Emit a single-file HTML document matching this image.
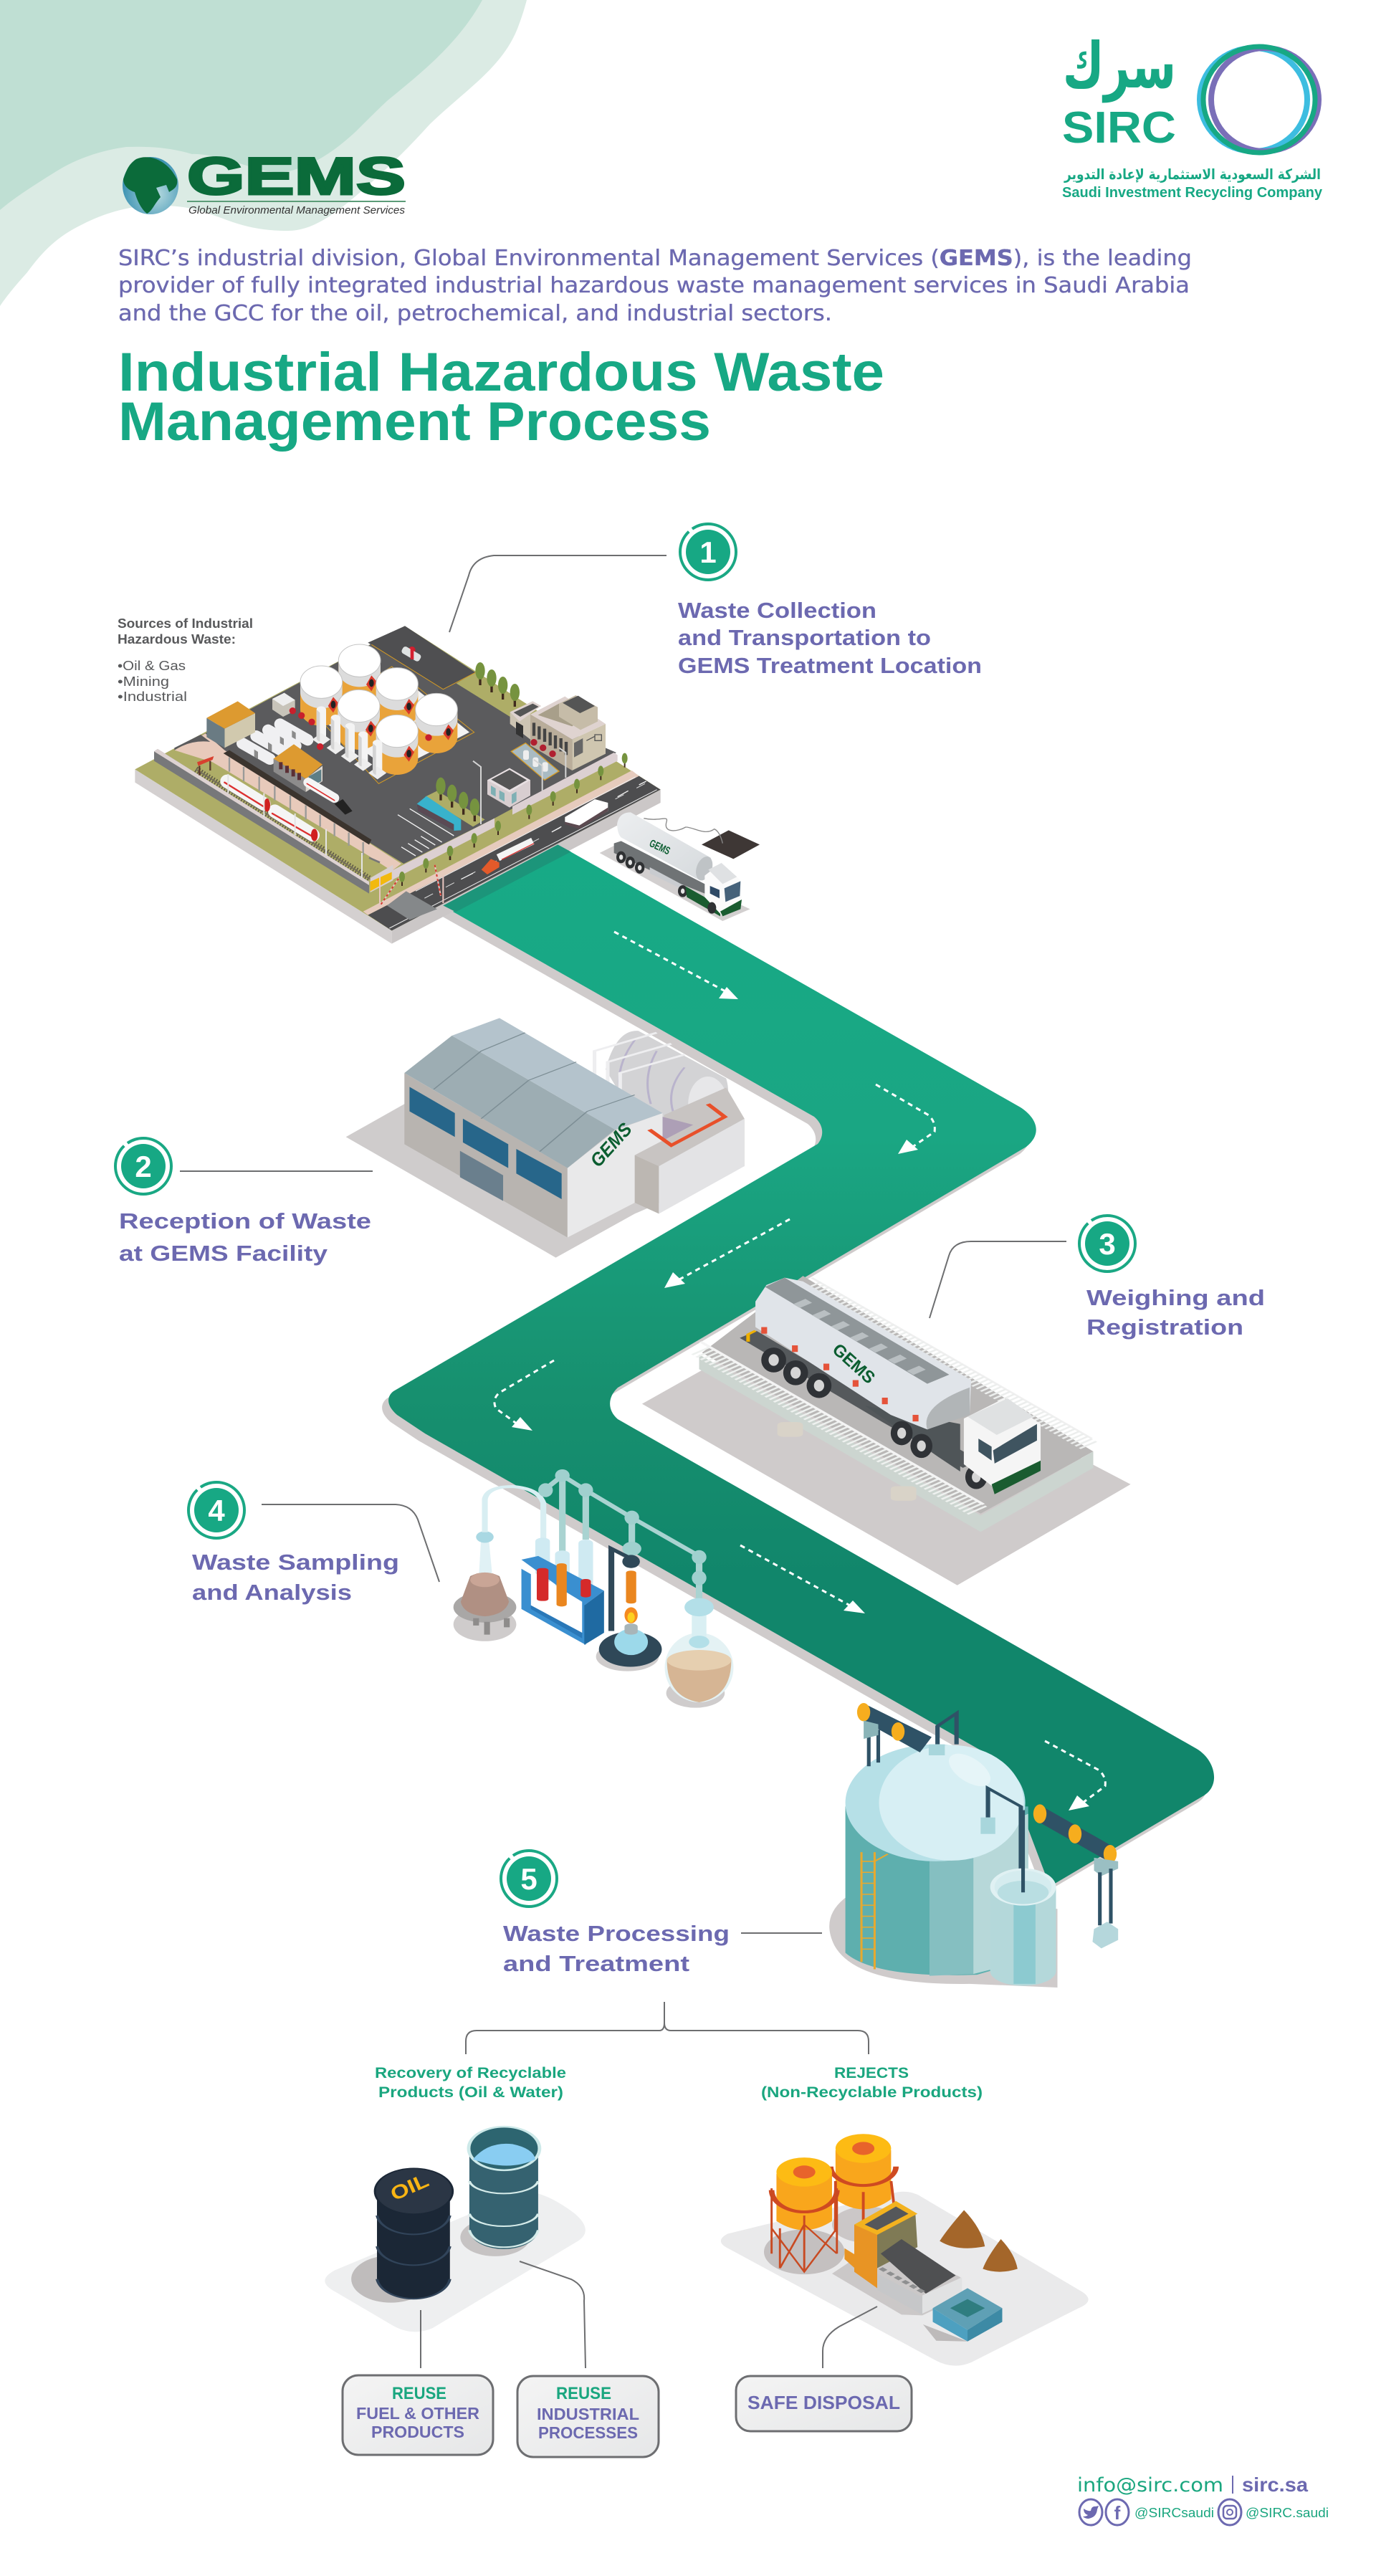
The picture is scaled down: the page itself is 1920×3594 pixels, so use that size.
<!DOCTYPE html>
<html><head><meta charset="utf-8"><style>
html,body{margin:0;padding:0;background:#fff}svg{display:block}
.p{font-family:"DejaVu Sans",sans-serif;fill:#6c69b0;stroke:#6c69b0;stroke-width:.35px;font-size:30px}
.h{font-family:"Liberation Sans",sans-serif;font-weight:700;fill:#17a884;font-size:76px}
.l{font-family:"Liberation Sans",sans-serif;font-weight:700;fill:#6c69b0;font-size:31px}
.g{font-family:"Liberation Sans",sans-serif;font-weight:700;fill:#1aa67f;font-size:21px}
.b{font-family:"Liberation Sans",sans-serif;font-weight:700;fill:#6c69b0;font-size:23px}
.s{font-family:"Liberation Sans",sans-serif;fill:#58595b;font-size:18px}
.n{font-family:"Liberation Sans",sans-serif;font-weight:700;fill:#fff;font-size:42px;text-anchor:middle}
.ln{fill:none;stroke:#6d6e70;stroke-width:2}
.da{fill:none;stroke:#fff;stroke-width:3;stroke-dasharray:7 6}
.ring{fill:#fff;stroke:#1aa884;stroke-width:4;stroke-dasharray:154 6 85 0}
</style></head><body>
<svg xmlns="http://www.w3.org/2000/svg" width="1920" height="3594" viewBox="0 0 1920 3594">
<defs>
<linearGradient id="rd" gradientUnits="userSpaceOnUse" x1="0" y1="1178" x2="0" y2="2200"><stop offset="0" stop-color="#17aa86"/><stop offset=".4" stop-color="#1aa683"/><stop offset=".75" stop-color="#17906f"/><stop offset="1" stop-color="#11866b"/></linearGradient>
<linearGradient id="bx" x1="0" y1="0" x2="1" y2="1"><stop offset="0" stop-color="#f4f4f4"/><stop offset="1" stop-color="#e6e7e8"/></linearGradient>
<radialGradient id="gl" cx=".6" cy=".65" r=".6"><stop offset="0" stop-color="#b8dbe0"/><stop offset="1" stop-color="#3d93b3"/></radialGradient>
<linearGradient id="tg" x1="0" y1="0" x2="1" y2="1"><stop offset="0" stop-color="#eceef0"/><stop offset="1" stop-color="#d6dadd"/></linearGradient>
<g id="tk"><path d="M-88,0 L-88,115 A88,68 0 0 0 88,115 L88,0 Z" fill="#e9a33a"/><path d="M-88,0 L-88,42 A88,68 0 0 0 88,42 L88,0 Z" fill="#dcdcdc"/><ellipse rx="88" ry="68" fill="#fff" stroke="#c4c4c4" stroke-width="3"/><polygon points="50,62 72,88 50,128 28,100" fill="#d8392b"/><ellipse cx="50" cy="94" rx="10" ry="16" fill="#222"/></g>
<g id="tr"><rect x="-5" y="-45" width="10" height="45" fill="#3f2a1e"/><ellipse cx="0" cy="-60" rx="20" ry="36" fill="#76933f"/></g>
<g id="ts"><rect x="-3" y="-30" width="6" height="30" fill="#3f2a1e"/><ellipse cx="0" cy="-38" rx="12" ry="22" fill="#76933f"/></g>
<g id="hz"><path d="M-58,-34 L58,32" stroke="#f0f0f2" stroke-width="48" stroke-linecap="round" fill="none"/><polygon points="-8,-8 8,2 8,32 -8,22" fill="#8b8b8b"/></g>
<g id="pl"><path d="M-20,-120 A20,14 0 0 1 20,-120 L20,0 A20,14 0 0 1 -20,0Z" fill="#f4f4f4"/><polygon points="-38,5 0,-22 38,5 0,32" fill="#eee"/><path d="M-20,-120 L-20,0 A20,14 0 0 0 -6,13 L-6,-107Z" fill="#d4d4d4"/></g>
</defs>

<!-- top blobs -->
<path d="M0,0 H735 C731,15 727,27 722,40 C700,95 650,125 600,173 C565,212 530,245 497,273 C465,300 435,322 402,322 C370,322 350,318 325,310 C290,298 270,287 225,287 C190,285 150,295 115,313 C80,330 60,350 38,380 C20,400 8,415 0,427Z" fill="#dbebe4"/>
<path d="M0,0 H673 C640,60 590,100 541,140 C525,155 510,170 497,183 C470,208 445,225 421,233 C400,242 385,242 360,236 C325,225 290,214 268,215 C235,205 205,204 176,205 C140,210 105,222 77,240 C45,260 20,276 0,293Z" fill="#bfdfd3"/>

<!-- GEMS logo -->
<ellipse cx="210" cy="259" rx="39" ry="40" fill="url(#gl)"/>
<path d="M190,222 C205,215 232,220 247,250 C249,262 240,265 236,268 L232,258 L218,262 L224,275 C215,285 212,295 205,298 C195,290 190,275 188,268 C178,265 172,258 172,250 C176,240 178,230 190,222Z" fill="#0b6b3a"/>
<text x="261" y="271" font-family="'Liberation Sans',sans-serif" font-weight="700" font-size="73" fill="#0b6b3a" stroke="#0b6b3a" stroke-width="3" textLength="305" lengthAdjust="spacingAndGlyphs">GEMS</text>
<rect x="261" y="280" width="305" height="2" fill="#5c9c78"/>
<text x="263" y="298" font-family="'Liberation Sans',sans-serif" font-style="italic" font-size="15" fill="#333" textLength="302" lengthAdjust="spacingAndGlyphs">Global Environmental Management Services</text>

<!-- SIRC logo -->
<text x="1641" y="122" direction="rtl" font-family="'DejaVu Sans',sans-serif" font-weight="700" font-size="88" fill="#17a884" textLength="158" lengthAdjust="spacingAndGlyphs">سرك</text>
<text x="1482" y="199" font-family="'Liberation Sans',sans-serif" font-weight="700" font-size="62" fill="#17a884" textLength="159" lengthAdjust="spacingAndGlyphs">SIRC</text>
<ellipse cx="1749" cy="139" rx="75" ry="72" fill="none" stroke="#3dbde0" stroke-width="8"/>
<ellipse cx="1765" cy="139" rx="75" ry="72" fill="none" stroke="#7a6fb8" stroke-width="8"/>
<ellipse cx="1757" cy="139" rx="78" ry="74" fill="none" stroke="#17a884" stroke-width="7"/>
<text x="1843" y="250" direction="rtl" font-family="'DejaVu Sans',sans-serif" font-weight="700" font-size="20" fill="#17a884" textLength="358" lengthAdjust="spacingAndGlyphs">الشركة السعودية الاستثمارية لإعادة التدوير</text>
<text x="1482" y="275" font-family="'Liberation Sans',sans-serif" font-weight="700" font-size="20" fill="#17a884" textLength="363" lengthAdjust="spacingAndGlyphs">Saudi Investment Recycling Company</text>

<!-- intro -->
<text class="p" x="165" y="370" textLength="1498" lengthAdjust="spacingAndGlyphs">SIRC’s industrial division, Global Environmental Management Services (<tspan font-weight="700">GEMS</tspan>), is the leading</text>
<text class="p" x="165" y="408" textLength="1495" lengthAdjust="spacingAndGlyphs">provider of fully integrated industrial hazardous waste management services in Saudi Arabia</text>
<text class="p" x="165" y="447" textLength="996" lengthAdjust="spacingAndGlyphs">and the GCC for the oil, petrochemical, and industrial sectors.</text>
<text class="h" x="165" y="545" textLength="1069" lengthAdjust="spacingAndGlyphs">Industrial Hazardous Waste</text>
<text class="h" x="165" y="614" textLength="827" lengthAdjust="spacingAndGlyphs">Management Process</text>

<!-- road -->
<path transform="translate(-9,10)" d="M618,1264 L778,1178 L1424,1545 C1447,1560 1455,1582 1432,1600 L862,1936 C847,1950 848,1968 862,1980 L1670,2440 C1695,2455 1704,2490 1680,2505 L1465,2632 L1400,2460 L593,2000 L554,1974 C538,1960 540,1948 549,1941 L1141,1596 C1150,1585 1150,1570 1136,1558Z" fill="#cfcbcb"/>
<path d="M618,1264 L778,1178 L1424,1545 C1447,1560 1455,1582 1432,1600 L862,1936 C847,1950 848,1968 862,1980 L1670,2440 C1695,2455 1704,2490 1680,2505 L1465,2632 L1400,2460 L593,2000 L554,1974 C538,1960 540,1948 549,1941 L1141,1596 C1150,1585 1150,1570 1136,1558Z" fill="url(#rd)"/>

<!-- dashed arrows -->
<path class="da" d="M857,1300 L1012,1383"/><polygon points="1030,1394 1003,1393 1014,1377" fill="#fff"/>
<path class="da" d="M1222,1513 L1296,1556 Q1306,1566 1304,1579 L1272,1601"/><polygon points="1253,1610 1265,1590 1281,1604" fill="#fff"/>
<path class="da" d="M1102,1701 L948,1785"/><polygon points="927,1797 939,1775 956,1791" fill="#fff"/>
<path class="da" d="M773,1898 L697,1943 Q686,1952 692,1965 L722,1987"/><polygon points="743,1996 714,1991 726,1977" fill="#fff"/>
<path class="da" d="M1033,2156 L1186,2240"/><polygon points="1207,2251 1177,2247 1190,2233" fill="#fff"/>
<path class="da" d="M1458,2429 L1534,2470 Q1544,2480 1542,2492 L1511,2515"/><polygon points="1491,2526 1503,2505 1520,2520" fill="#fff"/>

<!-- FACTORY -->
<g transform="translate(180,860) scale(.33333)">
<polygon points="25,640 1100,1315 1100,1370 25,695" fill="#d4d0d0"/>
<polygon points="1100,1315 2225,725 2225,780 1100,1370" fill="#cbc7c7"/>
<polygon points="1315,1210 1795,955 1850,985 1368,1237" fill="#1c957a"/>
<polygon points="25,640 1155,40 2225,725 1100,1315" fill="#aead67"/>
<!-- road -->
<polygon points="2225,725 2130,665 1000,1250 1100,1315" fill="#4d4d4f"/>
<polygon points="2135,668 2105,645 980,1235 1000,1250" fill="#e6cbbd"/>
<path d="M2210,725 L1090,1305 M2120,672 L1200,1150" stroke="#eee" stroke-width="3" fill="none"/>
<path d="M2160,700 L1130,1235" stroke="#ddd" stroke-width="3" stroke-dasharray="40 60" fill="none"/>
<polygon points="1080,1210 1160,1150 1290,1225 1175,1270" fill="#85888a"/>
<!-- asphalt -->
<polygon points="300,500 1155,40 1450,235 1370,280 2040,570 1530,845 1150,1035 400,570" fill="#5b5b5d"/>
<polygon points="1370,280 1595,420 1660,365 1450,235" fill="#aead67"/>
<polygon points="1240,755 1290,730 1490,850 1440,880" fill="#aead67"/>
<!-- pink & tracks -->
<polygon points="190,560 320,490 400,560 1140,1035 1100,1065 1000,1000 350,610" fill="#e8cabb"/>
<path d="M190,560 Q260,515 340,525 L300,495 L190,550Z" fill="#5b5b5d"/>
<path d="M280,640 L1010,1100" stroke="#5f5a46" stroke-width="26" stroke-dasharray="5 7" fill="none"/>
<path d="M280,640 L1010,1100" stroke="#77715c" stroke-width="6" fill="none"/>
<!-- left wall -->
<polygon points="105,565 120,555 1005,1110 1005,1160 105,605" fill="#77787a"/>
<polygon points="105,565 120,555 1005,1110 1005,1125" fill="#ddd2d2"/>
<!-- right walls and planter -->
<g transform="translate(1260,270)">
<polygon points="345,525 770,300 785,310 785,335 345,560" fill="#dcd0d2"/>
<polygon points="270,575 -250,840 -250,880 270,612" fill="#dcd0d2"/>
</g>
<polygon points="1010,1095 1105,1040 1105,1105 1010,1155" fill="#d9d0d0"/><polygon points="1010,1110 1100,1070 1100,1100 1010,1150" fill="#f2b90f"/>
<!-- yellow lines / slabs -->
<polygon points="1000,110 1155,40 1450,235 1315,305" fill="#4f4f51"/>
<polyline points="1015,118 1315,305 1450,235" fill="none" stroke="#d49a24" stroke-width="3"/>
<polygon points="780,410 1100,210 1445,485 1045,700" fill="none" stroke="#d49a24" stroke-width="3"/>
<polygon points="790,420 1100,220 1425,485 1100,650" fill="#f3f3f3"/>
<use href="#tk" x="965" y="185"/><use href="#tk" x="805" y="275"/><use href="#tk" x="1122" y="283"/><use href="#tk" x="962" y="375"/><use href="#tk" x="1287" y="390"/><use href="#tk" x="1122" y="480"/>
<use href="#pl" x="805" y="510"/><use href="#pl" x="865" y="545"/><use href="#pl" x="925" y="580"/><use href="#pl" x="980" y="615"/><use href="#pl" x="1040" y="650"/>
<polygon points="600,345 650,320 695,350 695,395 645,420 600,390" fill="#c8c4ba"/><polygon points="600,345 650,320 695,350 645,375" fill="#eee"/>
<!-- horiz tanks -->
<use href="#hz" x="690" y="485"/><use href="#hz" x="640" y="510"/><use href="#hz" x="590" y="535"/><use href="#hz" x="532" y="565"/>
<g fill="#c8202c"><circle cx="685" cy="395" r="14"/><circle cx="722" cy="415" r="14"/><circle cx="765" cy="442" r="14"/><circle cx="800" cy="545" r="14"/><circle cx="1254" cy="507" r="14"/><circle cx="1185" cy="140" r="14"/></g>
<rect x="1140" y="140" width="85" height="32" rx="12" transform="rotate(30 1180 155)" fill="#dfe2e2"/>
<polygon points="1178,128 1192,128 1192,180 1178,180" fill="#d42030"/>
<!-- warehouse 1 -->
<polygon points="400,550 528,485 528,405 400,470" fill="#d1c9ae"/><polygon points="325,425 400,470 400,550 325,505" fill="#6a7b83"/>
<polygon points="325,425 455,355 528,405 400,470" fill="#dd9a30"/>
<!-- conveyor -->
<polygon points="395,573 420,560 1015,935 1005,955" fill="#3b342e"/>
<path d="M420,590 L420,650 M480,630 L480,690 M545,670 L545,730 M610,710 L610,770 M675,750 L675,810 M740,790 L740,850 M800,830 L800,880 M860,865 L860,920 M920,905 L920,960 M980,945 L980,1000" stroke="#9a9a98" stroke-width="7"/>
<!-- warehouse 2 -->
<polygon points="605,595 740,680 740,735 605,650" fill="#8d8c8c"/><polygon points="740,680 810,625 810,690 740,735" fill="#ded8d0"/>
<polygon points="752,670 805,640 805,690 752,715" fill="#5d7e86"/>
<polygon points="605,595 690,535 810,620 740,680" fill="#dd9a30"/>
<g fill="#5b2f35"><rect x="628" y="610" width="15" height="30"/><rect x="654" y="625" width="15" height="30"/><rect x="680" y="640" width="15" height="30"/><rect x="705" y="655" width="15" height="30"/></g>
<!-- train -->
<g stroke-linecap="round" fill="none"><path d="M410,690 L565,785" stroke="#f5f5f5" stroke-width="56"/><path d="M610,815 L770,915" stroke="#f5f5f5" stroke-width="56"/><path d="M400,695 L570,800 M600,825 L775,925" stroke="#dc3030" stroke-width="7"/><path d="M750,695 L860,760" stroke="#f5f5f5" stroke-width="40"/><path d="M745,700 L860,770" stroke="#dc3030" stroke-width="5"/></g>
<ellipse cx="578" cy="790" rx="13" ry="28" fill="#d02020"/><ellipse cx="776" cy="915" rx="14" ry="26" fill="#d02020"/>
<polygon points="860,785 895,765 935,815 905,830" fill="#222"/>
<polygon points="285,610 355,585 350,600 290,625" fill="#d8402f"/>
<path d="M295,625 L295,665 M340,605 L340,645" stroke="#5a3a2a" stroke-width="7"/>
<path d="M1005,1010 L1050,1030" stroke="#777" stroke-width="8"/>
<path d="M415,660 V740 M565,740 V840 M695,825 V915 M825,890 V1000 M975,990 V1095" stroke="#e4e4e4" stroke-width="6"/>
<!-- parking -->
<path d="M1125,830 L1310,945 M1175,805 L1360,918 M1140,965 L1200,1002 M1168,950 L1228,987 M1196,935 L1256,972 M1222,920 L1282,957" stroke="#f2f2f2" stroke-width="4"/>
<polygon points="1205,785 1245,752 1390,850 1390,895 1360,897 1208,815" fill="#38b2cc"/><polygon points="1205,785 1360,870 1360,897 1208,815" fill="#5a4a54"/>
<!-- crossing signs -->
<path d="M1050,1090 V1215 M1055,1205 L1130,1095 M1315,1085 V1200 M1280,1040 L1305,1170" stroke="#e8c6c0" stroke-width="6"/>
<path d="M1055,1205 L1130,1095 M1280,1040 L1305,1170" stroke="#d43a30" stroke-width="6" stroke-dasharray="10 10"/>
<!-- trees -->
<use href="#tr" x="1470" y="288"/><use href="#tr" x="1518" y="318"/><use href="#tr" x="1565" y="348"/><use href="#tr" x="1615" y="378"/>
<use href="#tr" x="1305" y="770"/><use href="#tr" x="1352" y="800"/><use href="#tr" x="1400" y="830"/><use href="#tr" x="1447" y="858"/>
<use href="#ts" x="1143" y="1128"/><use href="#ts" x="1243" y="1072"/><use href="#ts" x="1343" y="1020"/><use href="#ts" x="1445" y="967"/>
<g transform="translate(1260,270)">
<use href="#ts" x="85" y="750"/><use href="#ts" x="185" y="697"/><use href="#ts" x="285" y="645"/><use href="#ts" x="415" y="578"/><use href="#ts" x="515" y="522"/><use href="#ts" x="615" y="470"/><use href="#ts" x="715" y="415"/><use href="#ts" x="815" y="362"/>
<!-- admin building -->
<polygon points="335,130 430,85 465,105 420,135 420,245 335,180" fill="#cdc4b3"/><polygon points="335,130 430,85 465,105 375,170" fill="#dfd3d0"/><polygon points="350,132 430,95 455,108 378,150" fill="#555"/>
<polygon points="360,170 390,188 390,240 360,222" fill="#333"/>
<polygon points="420,140 595,245 595,375 420,270" fill="#b9ad9a"/><polygon points="595,245 735,180 735,305 595,375" fill="#cfc6b0"/><polygon points="420,140 565,65 735,180 595,245" fill="#dfd3d0"/>
<polygon points="452,143 540,95 630,160 595,190" fill="#a89f8a"/>
<polygon points="540,95 610,60 702,110 702,170 630,205 540,150" fill="#c6bca8"/><polygon points="555,92 620,62 690,105 628,135" fill="#555"/>
<path d="M435,175 V230 M457,190 V245 M480,200 V255 M503,215 V270 M525,228 V283 M548,240 V295 M570,255 V310" stroke="#444" stroke-width="13"/>
<polygon points="603,260 640,240 640,300 603,320" fill="#666"/>
<path d="M655,250 L690,232 M690,225 H718 V250 H690Z" stroke="#555" stroke-width="4" fill="none"/>
<polygon points="340,295 400,260 540,378 480,415" fill="#a9bbc2" stroke="#d49a24" stroke-width="4"/>
<g fill="#eee"><rect x="390" y="290" width="24" height="40" rx="8"/><rect x="430" y="320" width="24" height="40" rx="8"/><rect x="470" y="340" width="24" height="40" rx="8"/></g>
<g fill="#b02030"><circle cx="435" cy="257" r="14"/><circle cx="473" cy="280" r="14"/><circle cx="513" cy="305" r="14"/></g>
<path d="M180,335 L213,360 V600 M540,280 L568,300 V405 M435,330 L470,355 V460" stroke="#d4d4d4" stroke-width="6" fill="none"/>
<!-- gatehouse -->
<polygon points="240,415 333,365 420,415 420,480 333,530 240,475" fill="#d8ced0"/><polygon points="240,415 333,365 420,415 333,467" fill="#e8e0e2"/><polygon points="256,413 333,372 405,415 333,456" fill="#555"/>
<g fill="#7fb0b4"><polygon points="255,438 275,450 275,485 255,473"/><polygon points="290,458 312,470 312,505 290,493"/><polygon points="342,475 362,463 362,503 342,515"/></g>
<!-- bus & truck -->
<polygon points="565,570 690,495 745,510 745,545 625,615 565,590" fill="#fff"/><polygon points="565,590 625,605 745,530 745,545 625,620 565,600" fill="#5c4a50"/>
<path d="M285,740 L430,670" stroke="#f4f4f4" stroke-width="30"/><path d="M300,748 L435,680" stroke="#dc3030" stroke-width="4"/>
<polygon points="215,790 255,745 290,760 290,780 240,810" fill="#e35a2a"/>
<path d="M130,830 L180,805 M510,632 L550,610 M785,485 L830,460 M875,435 L905,420" stroke="#f4f4f4" stroke-width="4"/>
<!-- truck 1 -->
<polygon points="710,720 770,690 1340,955 1225,1005" fill="#d2cfcf"/>
<polygon points="770,680 800,670 1160,855 1150,890 1000,830 770,720" fill="#6f7375"/>
<polygon points="920,780 1145,900 1140,925 1030,860 920,805" fill="#c9ccd0"/>
<path d="M783,600 Q790,550 840,550 L1175,740 Q1185,760 1160,830 L1130,835 L800,655 Q785,640 783,600Z" fill="url(#tg)"/>
<ellipse cx="1148" cy="785" rx="32" ry="52" transform="rotate(20 1148 785)" fill="#bfc3c6"/>
<g fill="#2f3133"><ellipse cx="800" cy="738" rx="20" ry="25"/><ellipse cx="838" cy="760" rx="20" ry="25"/><ellipse cx="878" cy="782" rx="20" ry="25"/><ellipse cx="1058" cy="880" rx="20" ry="25"/></g>
<g fill="#e6e6e6"><ellipse cx="800" cy="738" rx="8" ry="11"/><ellipse cx="838" cy="760" rx="8" ry="11"/><ellipse cx="878" cy="782" rx="8" ry="11"/><ellipse cx="1058" cy="880" rx="8" ry="11"/></g>
<polygon points="1070,860 1150,905 1150,905 1215,960 1215,985 1075,905" fill="#1a5c30"/>
<polygon points="1150,815 1220,760 1300,835 1305,925 1225,985 1150,905" fill="#fbfbfb"/>
<polygon points="1165,790 1220,762 1285,820 1225,850" fill="#dfe1e3"/>
<polygon points="1232,868 1300,838 1297,900 1237,925" fill="#46627a"/><polygon points="1172,858 1212,875 1212,910 1172,890" fill="#2f4a66"/>
<polygon points="1215,965 1305,915 1300,955 1225,985" fill="#1a5c30"/>
<ellipse cx="1180" cy="950" rx="18" ry="24" fill="#2f3133"/>
<polygon points="1137,685 1250,625 1380,685 1270,745" fill="#3e3735"/>
<path d="M895,575 C960,590 1000,560 990,590 C975,640 1040,630 1070,612 C1100,610 1150,650 1190,620 C1215,630 1225,680 1225,680" fill="none" stroke="#8a8a8a" stroke-width="4"/>
</g>
</g>
<text transform="translate(905,1180) rotate(25)" font-family="'Liberation Sans',sans-serif" font-weight="700" font-size="15" fill="#0b5d30" textLength="30" lengthAdjust="spacingAndGlyphs">GEMS</text>

<!-- BUILDING step 2 -->
<g transform="translate(100,1400) scale(1.0204,.5102)">
<polygon points="375,365 455,275 920,315 920,445 770,575 662,695" fill="#cfcccc"/>
<path d="M730,180 Q745,70 775,75 L895,205 Q905,270 880,340 L815,370 L760,280Z" fill="#d3d3d5"/>
<ellipse cx="870" cy="275" rx="27" ry="75" fill="#e7e7e9"/>
<path d="M770,100 Q740,180 752,260 M800,130 Q780,200 792,275 M838,175 Q810,240 825,310" fill="none" stroke="#b9b3cc" stroke-width="3"/>
<polygon points="810,305 895,230 920,315 805,420" fill="#c8c4c2"/>
<polygon points="808,310 875,345 815,412 808,400" fill="#ad9fb6"/>
<path d="M715,230 V130 L800,80 M733,260 V160 L820,110 M750,280 V190 L838,140" fill="none" stroke="#eeeef0" stroke-width="5"/>
<polygon points="455,190 678,450 678,640 455,385" fill="#b8b4b0"/>
<polygon points="462,228 524,300 524,365 462,295" fill="#27668a"/><polygon points="535,315 597,385 597,450 535,380" fill="#27668a"/><polygon points="608,398 670,465 670,535 608,465" fill="#27668a"/>
<polygon points="531,403 590,470 590,540 531,475" fill="#6a7f8d"/>
<polygon points="678,450 745,345 808,300 808,375 770,415 770,545 678,640" fill="#e9e9ea"/>
<polygon points="770,415 803,445 803,575 770,545" fill="#bcb7b2"/>
<polygon points="803,445 920,315 920,445 803,575" fill="#e3e3e5"/>
<polygon points="770,415 890,290 920,315 803,445" fill="#c8c4c2"/>
<polygon points="455,190 520,88 743,345 678,450" fill="#9dadb3"/>
<polygon points="520,88 585,40 808,300 743,345" fill="#b4c3cc"/>
<path d="M495,235 L560,130 M560,315 L625,210 M640,405 L705,295 M560,130 L620,80 M625,210 L690,160 M705,295 L770,250" stroke="#7d8e95" stroke-width="2" fill="none"/>
<polyline points="790,345 820,388 893,310 870,275" fill="none" stroke="#e8502a" stroke-width="7"/>
</g>
<text transform="translate(835,1630) rotate(-48)" font-family="'Liberation Sans',sans-serif" font-weight="700" font-style="italic" font-size="26" fill="#0b5d30" textLength="72" lengthAdjust="spacingAndGlyphs">GEMS</text>

<!-- TRUCK step 3 -->
<g transform="translate(100,1400) scale(1.0204,.5102)">
<polygon points="780,1095 860,1005 1000,845 1448,1315 1211,1591" fill="#cfcbcb"/>
<polygon points="858,960 858,1000 1243,1445 1397,1270 1397,1225 1243,1400" fill="#ccd5d0"/>
<polygon points="862,955 1000,745 1397,1225 1243,1395" fill="#b9b7b6"/>
<rect x="965" y="1145" width="35" height="40" fill="#d9d3c8" rx="8"/><rect x="1120" y="1320" width="35" height="40" fill="#d9d3c8" rx="8"/>
<path d="M860,948 L1240,1388" stroke="#eef1ef" stroke-width="34" stroke-dasharray="4 5" fill="none"/>
<path d="M860,925 L1247,1370" stroke="#f4f4f4" stroke-width="5"/>
<path d="M1012,750 L1395,1190" stroke="#f0f0f0" stroke-width="4"/>
<path d="M1012,770 L1392,1210" stroke="#eceeed" stroke-width="30" stroke-dasharray="4 5" fill="none"/>
<path d="M925,905 L1120,1135 L1230,1260" stroke="#55595c" stroke-width="30" fill="none"/>
<polygon points="1085,1100 1215,1150 1215,1280 1185,1240" fill="#4f5558"/>
<g fill="#2f3236"><ellipse cx="960" cy="975" rx="17" ry="34"/><ellipse cx="990" cy="1010" rx="17" ry="34"/><ellipse cx="1022" cy="1045" rx="17" ry="34"/><ellipse cx="1135" cy="1175" rx="15" ry="33"/><ellipse cx="1162" cy="1210" rx="15" ry="33"/><ellipse cx="1237" cy="1295" rx="15" ry="33"/></g>
<g fill="#d5d5d5"><ellipse cx="960" cy="975" rx="7" ry="16"/><ellipse cx="990" cy="1010" rx="7" ry="16"/><ellipse cx="1022" cy="1045" rx="7" ry="16"/><ellipse cx="1135" cy="1175" rx="6" ry="15"/><ellipse cx="1162" cy="1210" rx="6" ry="15"/><ellipse cx="1237" cy="1295" rx="6" ry="15"/></g>
<polygon points="935,815 950,770 975,750 1000,760 1230,1030 1228,1120 1170,1165 1120,1125 935,885" fill="#e0e4e9"/>
<polygon points="948,775 975,750 1200,1015 1170,1040" fill="#8f9699"/>
<path d="M995,815 L1165,1015" stroke="#b9bfc2" stroke-width="22" stroke-dasharray="14 26"/>
<path d="M1170,1165 Q1160,1100 1228,1050 L1228,1125Z" fill="#b1b5b7"/>
<g fill="#e5533a"><rect x="943" y="885" width="8" height="18"/><rect x="985" y="935" width="8" height="18"/><rect x="1028" y="985" width="8" height="18"/><rect x="1068" y="1030" width="8" height="18"/><rect x="1108" y="1078" width="8" height="18"/><rect x="1150" y="1125" width="8" height="18"/></g>
<path d="M925,925 L925,905 L935,895" stroke="#efb000" stroke-width="5" fill="none"/>
<polygon points="1220,1135 1275,1080 1325,1150 1325,1255 1262,1325 1220,1260" fill="#f5f5f5"/>
<polygon points="1225,1130 1280,1080 1315,1130 1265,1180" fill="#dfe1e2"/>
<polygon points="1260,1222 1320,1150 1320,1195 1262,1258" fill="#3f5460"/>
<polygon points="1240,1190 1258,1212 1258,1250 1240,1225" fill="#3f5460"/>
<polygon points="1258,1315 1325,1250 1325,1278 1262,1342" fill="#1a5c30"/>
</g>
<text transform="translate(1160,1885) rotate(42)" font-family="'Liberation Sans',sans-serif" font-weight="700" font-size="24" fill="#0b5d30" textLength="70" lengthAdjust="spacingAndGlyphs">GEMS</text>

<!-- LAB -->
<g transform="translate(200,2000) scale(1.0204,.5102)">
<ellipse cx="467" cy="522" rx="43" ry="46" fill="#cfcccc"/><ellipse cx="467" cy="475" rx="43" ry="42" fill="#a9a7a6"/>
<path d="M455,505 V525 M470,515 V550 M497,505 V530" stroke="#8e8c8b" stroke-width="8"/>
<path d="M447,390 Q467,370 487,390 L500,460 Q495,495 467,500 Q438,495 434,460Z" fill="#b09083"/>
<path d="M459,385 L462,280 L472,280 L477,385Z" fill="#d8eef2" opacity=".8"/>
<ellipse cx="467" cy="283" rx="12" ry="16" fill="#a9d8e3"/><ellipse cx="467" cy="400" rx="20" ry="20" fill="#c9a596"/>
<path d="M467,270 V180 Q470,145 505,145 Q540,150 547,190 V290" fill="none" stroke="#d8eef2" stroke-width="8"/>
<path d="M548,155 L573,115 L605,155 L668,230 L760,335 M573,115 V340 M605,155 V290 M668,230 V320 M760,335 V460" fill="none" stroke="#a9d3d1" stroke-width="9"/>
<g fill="#a0d0ce"><ellipse cx="573" cy="115" rx="10" ry="17"/><ellipse cx="550" cy="155" rx="10" ry="19"/><ellipse cx="605" cy="155" rx="10" ry="19"/><ellipse cx="668" cy="230" rx="10" ry="19"/><ellipse cx="760" cy="338" rx="10" ry="19"/><ellipse cx="668" cy="315" rx="13" ry="19"/><ellipse cx="760" cy="395" rx="10" ry="20"/></g>
<rect x="536" y="285" width="20" height="180" rx="10" fill="#cfeaf2"/><rect x="563" y="320" width="20" height="160" rx="10" fill="#cfeaf2"/><rect x="595" y="290" width="20" height="150" rx="10" fill="#cfeaf2"/>
<polygon points="517,345 540,335 630,430 603,470" fill="#3a8fd0"/><polygon points="517,370 605,470 605,578 517,480" fill="#3a8fd0"/><polygon points="530,375 600,460 600,545 530,470" fill="#fff"/>
<polygon points="530,470 600,545 600,560 530,480" fill="#2a78b8"/><polygon points="603,470 630,430 630,545 603,578" fill="#1f6aa2"/>
<rect x="538" y="368" width="16" height="90" rx="6" fill="#d52a2a"/><rect x="565" y="355" width="14" height="118" rx="6" fill="#ea861f"/><rect x="598" y="398" width="14" height="50" rx="6" fill="#d52a2a"/>
<path d="M640,540 V315 L665,340" fill="none" stroke="#2f4858" stroke-width="8"/>
<ellipse cx="667" cy="350" rx="12" ry="18" fill="#2f4858"/>
<rect x="660" y="375" width="14" height="90" rx="6" fill="#ea861f"/>
<ellipse cx="662" cy="610" rx="43" ry="40" fill="#cfcccc"/><ellipse cx="666" cy="590" rx="43" ry="48" fill="#2f4858"/>
<ellipse cx="667" cy="570" rx="23" ry="36" fill="#9cd9ea"/><rect x="658" y="520" width="18" height="30" rx="8" fill="#a8b5b8"/>
<ellipse cx="667" cy="497" rx="9" ry="22" fill="#f58a1f"/><ellipse cx="667" cy="503" rx="5" ry="14" fill="#fdd020"/>
<ellipse cx="755" cy="710" rx="40" ry="40" fill="#cfcccc"/>
<ellipse cx="760" cy="640" rx="47" ry="95" fill="#e4f2f4"/>
<path d="M716,620 Q760,590 804,620 Q804,720 760,735 Q716,720 716,620Z" fill="#d6b594"/>
<ellipse cx="760" cy="620" rx="44" ry="28" fill="#e6cfb0"/>
<rect x="750" y="470" width="20" height="100" fill="#d9eff3"/>
<ellipse cx="760" cy="475" rx="20" ry="25" fill="#b3dfe8"/><ellipse cx="760" cy="570" rx="14" ry="17" fill="#b3dfe8"/>
</g>

<!-- TANK -->
<g transform="translate(200,2000) scale(1.0204,.5102)">
<path d="M985,1240 Q920,1300 945,1400 Q975,1510 1130,1505 L1250,1515 L1250,1300Z" fill="#cfcbcb"/>
<path d="M960,1020 V1420 Q1000,1490 1140,1480 L1210,1440 V1020Z" fill="#5eafae"/>
<path d="M1075,1100 V1483 L1135,1478 V1100Z" fill="#85bfc1"/>
<path d="M1135,1100 V1478 L1210,1440 V1040Z" fill="#b7d8d9"/>
<ellipse cx="1083" cy="1010" rx="123" ry="160" fill="#b6e0e7"/>
<ellipse cx="1105" cy="1010" rx="99" ry="158" fill="#d7eff4"/>
<ellipse cx="1130" cy="920" rx="22" ry="48" fill="#e6f5f8" transform="rotate(-25 1130 920)"/>
<path d="M982,1145 V1445 M1000,1145 V1465 M982,1170 H1000 M982,1200 H1000 M982,1230 H1000 M982,1260 H1000 M982,1290 H1000 M982,1320 H1000 M982,1350 H1000 M982,1380 H1000 M982,1410 H1000 M1000,1170 L1018,1150" stroke="#e7a92f" stroke-width="3" fill="none"/>
<polygon points="985,738 1078,830 1062,872 985,786" fill="#2f5266"/>
<ellipse cx="985" cy="762" rx="9" ry="25" fill="#f6ad1e"/><ellipse cx="1032" cy="815" rx="9" ry="25" fill="#f6ad1e"/>
<path d="M992,790 V910 M1005,810 V900" stroke="#2f5266" stroke-width="5"/>
<polygon points="985,785 1005,795 1005,825 985,835" fill="#8ab4b8"/>
<path d="M1086,850 V800 L1112,765 V850" stroke="#2f5266" stroke-width="6" fill="none"/>
<rect x="1074" y="850" width="22" height="30" fill="#a8d6dc"/>
<path d="M1155,1050 V970 L1200,1020 V1250" stroke="#2f5266" stroke-width="6" fill="none"/>
<rect x="1145" y="1050" width="20" height="45" fill="#a8d6dc"/>
<polygon points="1226,1016 1322,1125 1322,1173 1226,1064" fill="#2f5266"/>
<ellipse cx="1226" cy="1040" rx="9" ry="26" fill="#f6ad1e"/><ellipse cx="1274" cy="1095" rx="9" ry="26" fill="#f6ad1e"/><ellipse cx="1322" cy="1150" rx="9" ry="25" fill="#f6ad1e"/>
<polygon points="1300,1160 1333,1170 1333,1190 1310,1210 1300,1195" fill="#9abfc3"/>
<path d="M1308,1200 V1345 M1323,1190 V1340" stroke="#2f5266" stroke-width="5"/>
<polygon points="1300,1355 1318,1335 1333,1355 1333,1385 1310,1408 1298,1390" fill="#b5d7dc"/>
<path d="M1158,1240 V1470 A45,40 0 0 0 1248,1470 V1240Z" fill="#b4d8da"/>
<rect x="1190" y="1270" width="30" height="235" fill="#8ccad0"/>
<ellipse cx="1203" cy="1240" rx="42" ry="48" fill="#d5ecef" stroke="#e0f1f3" stroke-width="6"/>
<ellipse cx="1203" cy="1255" rx="35" ry="32" fill="#b9dee2"/>
<path d="M1203,1030 V1255" stroke="#2f5266" stroke-width="5"/>
</g>

<!-- DRUMS and DISPOSAL -->
<g transform="translate(400,2800) scale(.9694,.5063)">
<path d="M70,725 L340,510 Q370,505 415,570 Q445,620 415,650 L210,885 Q180,910 150,875 L70,785 Q40,755 70,725Z" fill="#eeeff0"/>
<ellipse cx="150" cy="750" rx="57" ry="65" fill="#bfbcbc"/>
<ellipse cx="300" cy="635" rx="50" ry="52" fill="#c6c3c3"/>
<path d="M263,390 V620 A50,55 0 0 0 362,620 V390Z" fill="#356270"/>
<path d="M263,480 A50,40 0 0 0 362,480 M263,570 A50,40 0 0 0 362,570 M263,615 A50,55 0 0 0 362,615" fill="none" stroke="#d6ecea" stroke-width="4"/>
<ellipse cx="313" cy="390" rx="51" ry="60" fill="#2d6570" stroke="#cde9e9" stroke-width="5"/>
<path d="M268,420 Q290,370 325,378 Q355,390 358,420 Q320,455 268,420Z" fill="#89cdf2"/>
<path d="M130,510 V750 A53,63 0 0 0 235,750 V510Z" fill="#1b2736"/>
<path d="M130,575 A53,60 0 0 0 235,575 M130,660 A53,60 0 0 0 235,660 M130,750 A53,63 0 0 0 235,750" fill="none" stroke="#31445a" stroke-width="4"/>
<ellipse cx="183" cy="508" rx="56" ry="63" fill="#2b3645" stroke="#1b2736" stroke-width="3"/>
<!-- disposal ground -->
<path d="M635,625 L880,510 Q900,505 915,525 L1145,785 Q1165,810 1140,830 L985,980 Q960,1000 935,975 L635,665 Q615,645 635,625Z" fill="#eaeaeb"/>
<ellipse cx="745" cy="675" rx="58" ry="62" fill="#c4c0c0"/>
<ellipse cx="835" cy="600" rx="50" ry="50" fill="#cbc7c7"/>
<path d="M790,395 V530 Q830,585 870,530 V395Z" fill="#f9a61c"/>
<ellipse cx="830" cy="390" rx="40" ry="40" fill="#fdbb14"/><ellipse cx="830" cy="390" rx="16" ry="18" fill="#e8632b"/>
<path d="M783,440 A47,52 0 0 0 877,440" fill="none" stroke="#cf4a21" stroke-width="8"/>
<path d="M870,480 L875,560 M830,510 V620 M790,480 V620" stroke="#cf4a21" stroke-width="4"/>
<path d="M705,460 V590 Q745,640 785,590 V460Z" fill="#f9a61c"/>
<ellipse cx="745" cy="455" rx="40" ry="40" fill="#fdbb14"/><ellipse cx="745" cy="455" rx="16" ry="18" fill="#e8632b"/>
<path d="M698,505 A47,60 0 0 0 792,505" fill="none" stroke="#cf4a21" stroke-width="8"/>
<path d="M698,500 V680 M745,575 V730 M792,500 V680 M698,610 L745,730 L792,610 M792,680 L745,600 L710,720 M710,720 V610" stroke="#c84a22" stroke-width="3" fill="none"/>
<polygon points="785,735 860,640 970,745 970,800 915,850 885,848" fill="#cbc8c8"/>
<polygon points="850,735 915,800 915,848 850,780" fill="#c6c7c9"/><polygon points="915,795 972,745 972,795 915,845" fill="#e1e2e3"/>
<polygon points="803,665 850,720 850,775 803,695" fill="#e89424"/>
<polygon points="817,600 845,580 850,620 850,775 817,730" fill="#e89424"/>
<polygon points="850,620 905,570 908,662 850,720" fill="#7f7a55"/>
<polygon points="817,600 877,535 908,570 850,628" fill="#f3b21f"/><polygon points="832,600 877,550 895,570 850,615" fill="#55575a"/>
<polygon points="855,680 885,640 963,740 920,790" fill="#4f5052"/>
<path d="M855,720 L920,790" stroke="#8e8f90" stroke-width="8" stroke-dasharray="10 6"/>
<polygon points="930,830 980,775 1030,830 980,890" fill="#5fa0b5"/><polygon points="955,830 980,805 1005,830 980,855" fill="#2f7d80"/>
<polygon points="930,830 980,890 980,922 930,868" fill="#4da0c0"/><polygon points="980,890 1030,830 1030,868 980,922" fill="#3d8aa5"/>
<polygon points="916,875 980,922 935,920" fill="#bdbaba"/>
<path d="M975,560 Q952,610 940,645 Q965,675 1005,660 Q1000,610 975,560Z" fill="#a4662a"/>
<path d="M1028,640 Q1008,690 1002,722 Q1025,738 1052,722 Q1048,680 1028,640Z" fill="#a4662a"/>
</g>
<text transform="translate(550,3071) rotate(-24)" font-family="'Liberation Sans',sans-serif" font-weight="700" font-size="27" fill="#f9b514" textLength="55" lengthAdjust="spacingAndGlyphs">OIL</text>

<!-- SOURCES -->
<text class="s" font-weight="700" x="164" y="876" textLength="189" lengthAdjust="spacingAndGlyphs">Sources of Industrial</text>
<text class="s" font-weight="700" x="164" y="898" textLength="165" lengthAdjust="spacingAndGlyphs">Hazardous Waste:</text>
<text class="s" x="164" y="935" textLength="95" lengthAdjust="spacingAndGlyphs">•Oil &amp; Gas</text>
<text class="s" x="164" y="957" textLength="72" lengthAdjust="spacingAndGlyphs">•Mining</text>
<text class="s" x="164" y="978" textLength="97" lengthAdjust="spacingAndGlyphs">•Industrial</text>

<!-- STEP 1 -->
<circle class="ring" cx="988" cy="770" r="39"/><circle cx="988" cy="770" r="31" fill="#17a884"/><text class="n" x="988" y="785">1</text>
<path class="ln" d="M930,775 H689 Q660,778 654,803 L627,882"/>
<text class="l" x="946" y="862" textLength="277" lengthAdjust="spacingAndGlyphs">Waste Collection</text>
<text class="l" x="946" y="900" textLength="353" lengthAdjust="spacingAndGlyphs">and Transportation to</text>
<text class="l" x="946" y="939" textLength="424" lengthAdjust="spacingAndGlyphs">GEMS Treatment Location</text>
<!-- STEP 2 -->
<circle class="ring" cx="200" cy="1627" r="39"/><circle cx="200" cy="1627" r="31" fill="#17a884"/><text class="n" x="200" y="1642">2</text>
<path class="ln" d="M251,1634 H520"/>
<text class="l" x="166" y="1714" textLength="352" lengthAdjust="spacingAndGlyphs">Reception of Waste</text>
<text class="l" x="166" y="1759" textLength="291" lengthAdjust="spacingAndGlyphs">at GEMS Facility</text>
<!-- STEP 3 -->
<circle class="ring" cx="1545" cy="1735" r="39"/><circle cx="1545" cy="1735" r="31" fill="#17a884"/><text class="n" x="1545" y="1750">3</text>
<path class="ln" d="M1488,1732 H1355 Q1330,1732 1324,1752 L1297,1839"/>
<text class="l" x="1516" y="1821" textLength="249" lengthAdjust="spacingAndGlyphs">Weighing and</text>
<text class="l" x="1516" y="1862" textLength="219" lengthAdjust="spacingAndGlyphs">Registration</text>
<!-- STEP 4 -->
<circle class="ring" cx="302" cy="2107" r="39"/><circle cx="302" cy="2107" r="31" fill="#17a884"/><text class="n" x="302" y="2122">4</text>
<path class="ln" d="M365,2099 H552 Q575,2100 583,2120 L613,2207"/>
<text class="l" x="268" y="2190" textLength="289" lengthAdjust="spacingAndGlyphs">Waste Sampling</text>
<text class="l" x="268" y="2232" textLength="223" lengthAdjust="spacingAndGlyphs">and Analysis</text>
<!-- STEP 5 -->
<circle class="ring" cx="738" cy="2621" r="39"/><circle cx="738" cy="2621" r="31" fill="#17a884"/><text class="n" x="738" y="2636">5</text>
<path class="ln" d="M1034,2697 H1147"/>
<text class="l" x="702" y="2708" textLength="316" lengthAdjust="spacingAndGlyphs">Waste Processing</text>
<text class="l" x="702" y="2750" textLength="260" lengthAdjust="spacingAndGlyphs">and Treatment</text>

<!-- bracket -->
<path class="ln" d="M927,2793 V2822 Q927,2833 920,2833 H665 Q650,2833 650,2848 V2866 M927,2822 Q927,2833 936,2833 H1197 Q1212,2833 1212,2848 V2866"/>
<text class="g" x="523" y="2899" textLength="267" lengthAdjust="spacingAndGlyphs">Recovery of Recyclable</text>
<text class="g" x="528" y="2926" textLength="258" lengthAdjust="spacingAndGlyphs">Products (Oil &amp; Water)</text>
<text class="g" x="1164" y="2899" textLength="104" lengthAdjust="spacingAndGlyphs">REJECTS</text>
<text class="g" x="1062" y="2926" textLength="309" lengthAdjust="spacingAndGlyphs">(Non-Recyclable Products)</text>

<!-- leader lines -->
<path class="ln" d="M587,3223 V3304"/>
<path class="ln" d="M725,3155 L797,3180 Q817,3190 815,3210 L817,3304"/>
<path class="ln" d="M1224,3218 L1171,3246 Q1148,3260 1148,3280 V3304"/>

<!-- boxes -->
<rect x="478" y="3314" width="210" height="111" rx="22" fill="url(#bx)" stroke="#6d6e71" stroke-width="3"/>
<text class="g" style="font-size:24px" x="547" y="3347" textLength="76" lengthAdjust="spacingAndGlyphs">REUSE</text>
<text class="b" x="497" y="3375" textLength="172" lengthAdjust="spacingAndGlyphs">FUEL &amp; OTHER</text>
<text class="b" x="518" y="3401" textLength="130" lengthAdjust="spacingAndGlyphs">PRODUCTS</text>
<rect x="722" y="3315" width="197" height="113" rx="22" fill="url(#bx)" stroke="#6d6e71" stroke-width="3"/>
<text class="g" style="font-size:24px" x="776" y="3347" textLength="77" lengthAdjust="spacingAndGlyphs">REUSE</text>
<text class="b" x="749" y="3376" textLength="143" lengthAdjust="spacingAndGlyphs">INDUSTRIAL</text>
<text class="b" x="751" y="3402" textLength="139" lengthAdjust="spacingAndGlyphs">PROCESSES</text>
<rect x="1027" y="3315" width="245" height="77" rx="20" fill="url(#bx)" stroke="#6d6e71" stroke-width="3"/>
<text class="b" style="font-size:26px" x="1043" y="3361" textLength="213" lengthAdjust="spacingAndGlyphs">SAFE DISPOSAL</text>

<!-- footer -->
<text x="1503" y="3476" font-family="'DejaVu Sans',sans-serif" font-size="27" fill="#1aa67f" textLength="204" lengthAdjust="spacingAndGlyphs">info@sirc.com</text>
<rect x="1719" y="3454" width="2" height="25" fill="#6c69b0"/>
<text x="1733" y="3476" font-family="'Liberation Sans',sans-serif" font-weight="700" font-size="28" fill="#6c69b0" textLength="92" lengthAdjust="spacingAndGlyphs">sirc.sa</text>
<ellipse cx="1522" cy="3505" rx="16" ry="18" fill="#fff" stroke="#6c69b0" stroke-width="3"/>
<path d="M1512,3500 Q1518,3504 1522,3503 Q1523,3496 1529,3497 L1533,3496 L1531,3501 Q1530,3512 1519,3514 Q1514,3514 1511,3511 Q1516,3511 1518,3509 Q1512,3507 1512,3500Z" fill="#6c69b0"/>
<ellipse cx="1559" cy="3505" rx="16" ry="18" fill="#fff" stroke="#6c69b0" stroke-width="3"/>
<text x="1559" y="3515" text-anchor="middle" font-family="'Liberation Sans',sans-serif" font-weight="700" font-size="26" fill="#6c69b0">f</text>
<text x="1583" y="3512" font-family="'Liberation Sans',sans-serif" font-size="18" fill="#1aa67f" textLength="111" lengthAdjust="spacingAndGlyphs">@SIRCsaudi</text>
<ellipse cx="1716" cy="3505" rx="16" ry="18" fill="#fff" stroke="#6c69b0" stroke-width="3"/>
<rect x="1707" y="3496" width="18" height="18" rx="5" fill="none" stroke="#6c69b0" stroke-width="2.5"/><circle cx="1716" cy="3505" r="4" fill="none" stroke="#6c69b0" stroke-width="2"/>
<text x="1738" y="3512" font-family="'Liberation Sans',sans-serif" font-size="18" fill="#1aa67f" textLength="116" lengthAdjust="spacingAndGlyphs">@SIRC.saudi</text>
</svg>
</body></html>
